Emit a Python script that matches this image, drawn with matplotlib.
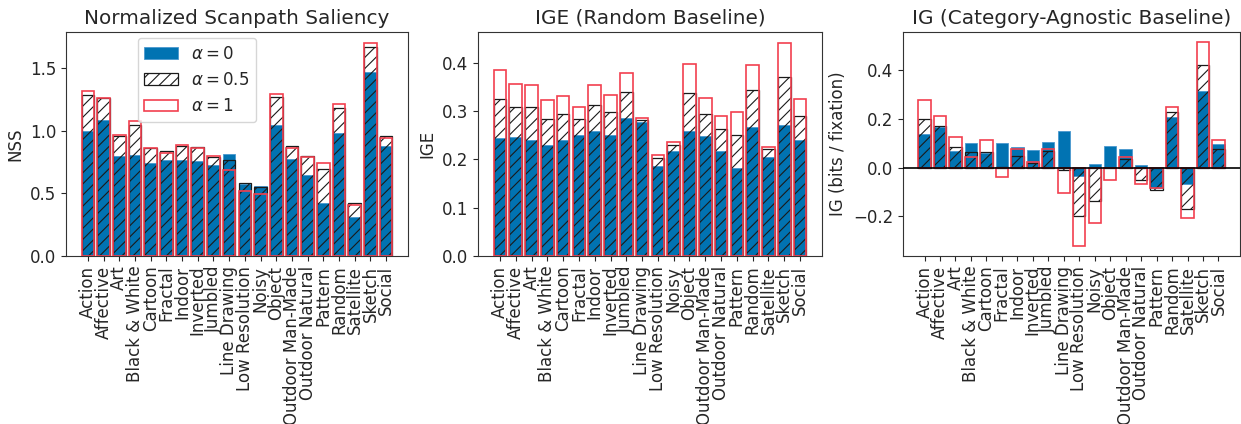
import matplotlib
matplotlib.use("Agg")
import matplotlib.pyplot as plt
import numpy as np

plt.rcParams['font.size'] = 12
plt.rcParams['hatch.linewidth'] = 0.8
TXT = "#262626"
plt.rcParams['text.color'] = TXT
plt.rcParams['axes.labelcolor'] = TXT
plt.rcParams['xtick.color'] = TXT
plt.rcParams['ytick.color'] = TXT
plt.rcParams['axes.edgecolor'] = "#333333"

categories = ["Action", "Affective", "Art", "Black & White", "Cartoon", "Fractal",
              "Indoor", "Inverted", "Jumbled", "Line Drawing", "Low Resolution",
              "Noisy", "Object", "Outdoor Man-Made", "Outdoor Natural", "Pattern",
              "Random", "Satellite", "Sketch", "Social"]

# Normalized Scanpath Saliency
nss_a0 = [1.003, 1.085, 0.797, 0.805, 0.741, 0.771, 0.765, 0.757, 0.731, 0.813,
          0.575, 0.563, 1.045, 0.779, 0.648, 0.424, 0.981, 0.309, 1.469, 0.883]
nss_a05 = [1.283, 1.262, 0.960, 1.045, 0.864, 0.843, 0.883, 0.869, 0.792, 0.771,
           0.580, 0.555, 1.267, 0.877, 0.800, 0.699, 1.184, 0.421, 1.669, 0.960]
nss_a1 = [1.320, 1.266, 0.968, 1.080, 0.867, 0.827, 0.885, 0.861, 0.797, 0.690,
          0.523, 0.496, 1.296, 0.867, 0.792, 0.744, 1.213, 0.405, 1.705, 0.941]

# IGE (Random Baseline)
ige_a0 = [0.243, 0.247, 0.240, 0.229, 0.240, 0.251, 0.258, 0.250, 0.286, 0.276,
          0.186, 0.218, 0.258, 0.248, 0.218, 0.182, 0.267, 0.205, 0.271, 0.239]
ige_a05 = [0.324, 0.309, 0.307, 0.283, 0.294, 0.283, 0.313, 0.298, 0.339, 0.281,
           0.202, 0.230, 0.337, 0.293, 0.262, 0.250, 0.343, 0.222, 0.369, 0.289]
ige_a1 = [0.384, 0.355, 0.354, 0.322, 0.331, 0.307, 0.354, 0.333, 0.379, 0.286,
          0.209, 0.236, 0.396, 0.326, 0.290, 0.298, 0.394, 0.226, 0.441, 0.324]

# IG (Category-Agnostic Baseline)
ig_a0 = [0.137, 0.168, 0.068, 0.102, 0.059, 0.102, 0.085, 0.072, 0.106, 0.150,
         -0.033, 0.016, 0.089, 0.076, 0.010, -0.085, 0.208, -0.066, 0.317, 0.097]
ig_a05 = [0.202, 0.172, 0.087, 0.063, 0.064, 0.001, 0.050, 0.020, 0.068, -0.011,
          -0.197, -0.137, -0.001, 0.035, -0.050, -0.090, 0.231, -0.168, 0.422, 0.075]
ig_a1 = [0.279, 0.212, 0.127, 0.045, 0.113, -0.038, 0.075, 0.025, 0.075, -0.105,
         -0.321, -0.228, -0.050, 0.044, -0.068, -0.083, 0.248, -0.208, 0.516, 0.113]

titles = ["Normalized Scanpath Saliency", "IGE (Random Baseline)",
          "IG (Category-Agnostic Baseline)"]
ylabels = ["NSS", "IGE", "IG (bits / fixation)"]
labels = [r"$\alpha = 0$", r"$\alpha = 0.5$", r"$\alpha = 1$"]

BLUE = "#0173b2"
RED = "#f2404f"

fig = plt.figure(figsize=(12.41, 4.24), dpi=100)
W, H = 1241, 424
boxes = [(66, 408), (478, 822), (903, 1240)]
top, bottom = 32, 256

data = [(nss_a0, nss_a05, nss_a1), (ige_a0, ige_a05, ige_a1), (ig_a0, ig_a05, ig_a1)]
x = np.arange(len(categories))
for i, ((l, r), (d0, d05, d1)) in enumerate(zip(boxes, data)):
    ax = fig.add_axes([l / W, 1 - bottom / H, (r - l) / W, (bottom - top) / H])
    ax.bar(x, d0, width=0.8, color=BLUE, edgecolor="#4a98cf", linewidth=0.6,
           label=labels[0], zorder=2)
    ax.bar(x, d05, width=0.8, facecolor="none", edgecolor="#1a1a1a", hatch="///",
           linewidth=0.9, label=labels[1], zorder=3)
    ax.bar(x, d1, width=0.8, facecolor="none", edgecolor=RED, linewidth=1.2,
           label=labels[2], zorder=4)
    if i == 2:
        ax.axhline(0, color="black", linewidth=1.2, zorder=5)
    ax.set_xticks(x)
    ax.set_xticklabels(categories, rotation=90)
    ax.set_title(titles[i])
    ax.set_ylabel(ylabels[i])
    if i == 0:
        h, lb = ax.get_legend_handles_labels()
        leg = ax.legend(h, lb, loc="upper left", bbox_to_anchor=(0.21, 0.973),
                        borderaxespad=0)
        leg.get_patches()[2].set_facecolor("white")

fig.savefig("out.png", dpi=100)
